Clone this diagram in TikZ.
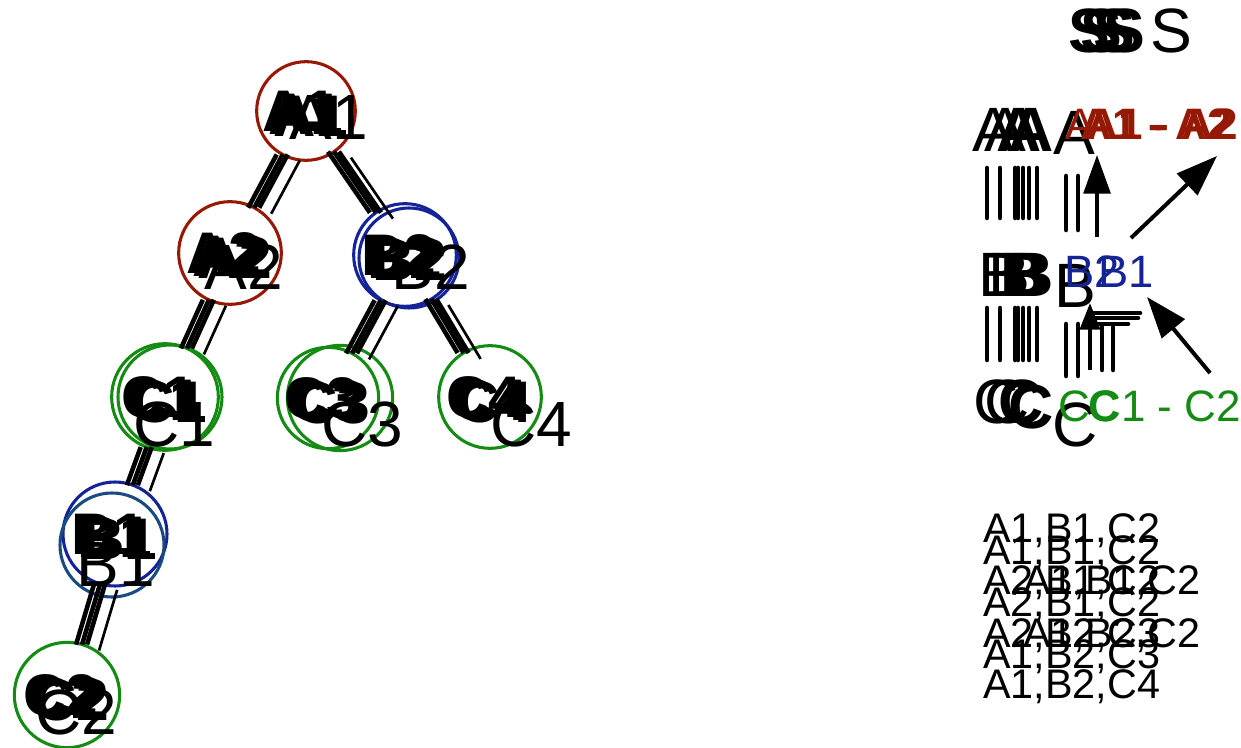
\documentclass[tikz,border=0pt]{standalone}
\usepackage{fontspec}
\setmainfont{Liberation Sans}
\usetikzlibrary{arrows.meta}

\definecolor{nred}{RGB}{150,25,5}
\definecolor{nblue}{RGB}{20,35,150}
\definecolor{nteal}{RGB}{25,75,130}
\definecolor{ngreen}{RGB}{20,140,20}

\tikzset{
  tnode/.style={circle, draw, line width=2.3pt, inner sep=0pt, outer sep=0pt},
  blbl/.style={font=\fontsize{44}{44}\selectfont\bfseries, inner sep=0pt},
  rlbl/.style={font=\fontsize{48}{48}\selectfont, inner sep=0pt},
  edge/.style={line width=3.4pt, black},
  thinedge/.style={line width=2pt, black},
  colreg/.style={font=\fontsize{47}{47}\selectfont, anchor=base west, inner sep=0pt},
  colbold/.style={font=\fontsize{47}{47}\selectfont\bfseries, anchor=base west, inner sep=0pt},
  redreg/.style={font=\fontsize{33}{33}\selectfont, text=nred, anchor=base west, inner sep=0pt},
  redbold/.style={font=\fontsize{33}{33}\selectfont\bfseries, text=nred, anchor=base west, inner sep=0pt},
  bluetxt/.style={font=\fontsize{34}{34}\selectfont, text=nblue, anchor=base west, inner sep=0pt},
  greenreg/.style={font=\fontsize{33}{33}\selectfont, text=ngreen, anchor=base west, inner sep=0pt},
  greenbold/.style={font=\fontsize{33}{33}\selectfont\bfseries, text=ngreen, anchor=base west, inner sep=0pt},
  listtxt/.style={font=\fontsize{31}{31}\selectfont, anchor=base west, inner sep=0pt},
  bar/.style={line width=3.4pt, line cap=round},
  bigarrow/.style={line width=3pt, -{Triangle[length=31pt,width=22pt]}},
  uparrow/.style={line width=3pt, -{Triangle[length=29pt,width=20pt]}},
  smallarrow/.style={line width=3pt, -{Triangle[length=20pt,width=15pt]}},
}

% stacked copies of a tree label: three bold, one larger regular
\newcommand\treelabel[4]{%
  \foreach \dx/\dy [count=\k] in {-6/0, 0/3, 5/5}
    \node[blbl] (#1-b\k) at ([shift={(\dx,\dy)}]#1.center) {#2};
  \node[rlbl] (#1-r) at ([shift={(#3,#4)}]#1.center) {#2};
}

% stacked copies of a tree edge: three thick strokes and one thin stroke
\newcommand\treeedge[2]{%
  \foreach \sx/\sy in {-6/0, 0/0, 5/0}
    \draw[edge, transform canvas={shift={(\sx,\sy)}}] (#1) -- (#2);
  \draw[thinedge, transform canvas={shift={(17,6)}}] (#1) -- (#2);
}

\begin{document}
\begin{tikzpicture}[x=0.75pt, y=-0.75pt]
\fill[white] (0,0) rectangle (1241,748);
\useasboundingbox (0,0) rectangle (1241,748);

% ---------------- tree ----------------
\node[tnode, draw=nred,   minimum size=74pt] (a1)  at (306,111) {};
\node[tnode, draw=nred,   minimum size=77pt] (a2)  at (230,253) {};
\node[tnode, draw=nblue,  minimum size=77pt] (b2)  at (405,255) {};
\node[tnode, draw=nblue,  minimum size=75pt] (b2x) at (409,258) {};
\node[tnode, draw=ngreen, minimum size=80pt] (c1)  at (165,397) {};
\node[tnode, draw=ngreen, minimum size=78pt] (c1x) at (170,397) {};
\node[tnode, draw=ngreen, minimum size=76pt] (c3)  at (328,398) {};
\node[tnode, draw=ngreen, minimum size=79pt] (c3x) at (340,398) {};
\node[tnode, draw=ngreen, minimum size=77pt] (c4)  at (490,397) {};
\node[tnode, draw=nblue,  minimum size=78pt] (b1)  at (115,534) {};
\node[tnode, draw=nteal,  minimum size=78pt] (b1x) at (112,545) {};
\node[tnode, draw=ngreen, minimum size=79pt] (c2)  at (67,695) {};

\treeedge{a1}{a2}
\treeedge{a1}{b2}
\treeedge{a2}{c1}
\treeedge{b2}{c3}
\treeedge{b2}{c4}
\treeedge{c1}{b1}
\treeedge{b1}{c2}

\treelabel{a1}{A1}{23}{6}
\treelabel{a2}{A2}{14}{14}
\treelabel{b2}{B2}{26}{12}
\treelabel{c1}{C1}{9}{27}
\treelabel{c3}{C3}{34}{26}
\treelabel{c4}{C4}{41}{27}
\treelabel{b1}{B1}{1}{30}
\treelabel{c2}{C2}{9}{17}

% ---------------- column of levels ----------------
\foreach \x [count=\k] in {1068,1080,1093,1103}
  \node[colbold] (s\k) at (\x,53) {S};
\node[colreg] (s5) at (1150,53) {S};

\node[colreg]  (ca1) at (972,152) {A};
\node[colreg]  (ca2) at (984,152) {A};
\node[colbold] (ca3) at (996,152) {A};
\node[colbold] (ca4) at (1008,152) {A};
\node[colreg]  (ca5) at (1053,155) {A};

\node[colreg]  (cb1) at (978,297) {B};
\node[colreg]  (cb2) at (988,297) {B};
\node[colbold] (cb3) at (1000,297) {B};
\node[colbold] (cb4) at (1008,297) {B};
\node[colreg]  (cb5) at (1054,308) {B};

\node[colreg]  (cc1) at (973,423) {C};
\node[colreg]  (cc2) at (984,423) {C};
\node[colbold] (cc3) at (998,423) {C};
\node[colbold] (cc4) at (1008,428) {C};
\node[colreg]  (cc5) at (1052,446) {C};

\node[redreg]  (ra1) at (1065,140) {A};
\node[redbold] (ra2) at (1080,140) {A1 - A2};
\node[redbold] (ra3) at (1086,140) {A1 - A2};

\node[bluetxt] (bl1) at (1064,288) {B2};
\node[bluetxt] (bl2) at (1098,288) {B1};

\node[greenreg]  (gr0) at (1058,421) {C};
\node[greenreg]  (gr1) at (1089,421) {C1 - C2};
\node[greenbold] (gr2) at (1088,421) {C};

% level links between A and B, B and C
\foreach \x [count=\k] in {987,1000,1015,1018,1023,1029,1037} {
  \coordinate (ab\k t) at (\x,168); \coordinate (ab\k b) at (\x,218);
  \draw[bar] (ab\k t) -- (ab\k b);
  \coordinate (bc\k t) at (\x,308); \coordinate (bc\k b) at (\x,360);
  \draw[bar] (bc\k t) -- (bc\k b);
}
\foreach \x [count=\k] in {1066,1078} {
  \coordinate (ab\k u) at (\x,176); \coordinate (ab\k v) at (\x,230);
  \draw[bar] (ab\k u) -- (ab\k v);
  \coordinate (bc\k u) at (\x,324); \coordinate (bc\k v) at (\x,376);
  \draw[bar] (bc\k u) -- (bc\k v);
}

% arrows
\coordinate (ar1s) at (1097,237); \coordinate (ar1e) at (1097,155);
\draw[uparrow] (ar1s) -- (ar1e);
\coordinate (ar2s) at (1131,238); \coordinate (ar2e) at (1217,156);
\draw[bigarrow] (ar2s) -- (ar2e);
\coordinate (ar3s) at (1210,373); \coordinate (ar3e) at (1147,297);
\draw[bigarrow] (ar3s) -- (ar3e);
\coordinate (ar4s) at (1090,370); \coordinate (ar4e) at (1090,303);
\draw[smallarrow] (ar4s) -- (ar4e);

% T-shaped strokes beside the small arrow
\coordinate (t1a) at (1090,313); \coordinate (t1b) at (1140,313);
\coordinate (t2a) at (1092,318); \coordinate (t2b) at (1138,318);
\coordinate (t3a) at (1095,324); \coordinate (t3b) at (1128,324);
\coordinate (t4a) at (1102,325); \coordinate (t4b) at (1102,370);
\coordinate (t5a) at (1113,327); \coordinate (t5b) at (1113,370);
\foreach \k in {1,...,5} \draw[bar] (t\k a) -- (t\k b);

% ---------------- paths list ----------------
\node[listtxt] (l1)  at (983,542) {A1,B1,C2};
\node[listtxt] (l2)  at (983,564) {A1,B1,C2};
\node[listtxt] (l3)  at (983,594) {A2,B1,C2};
\node[listtxt] (l3b) at (1023,594) {A1,B1,C2};
\node[listtxt] (l4)  at (983,616) {A2,B1,C2};
\node[listtxt] (l5)  at (983,647) {A2,B2,C3};
\node[listtxt] (l5b) at (1023,647) {A1,B2,C2};
\node[listtxt] (l6)  at (983,668) {A1,B2,C3};
\node[listtxt] (l7)  at (983,698) {A1,B2,C4};
\end{tikzpicture}
\end{document}
